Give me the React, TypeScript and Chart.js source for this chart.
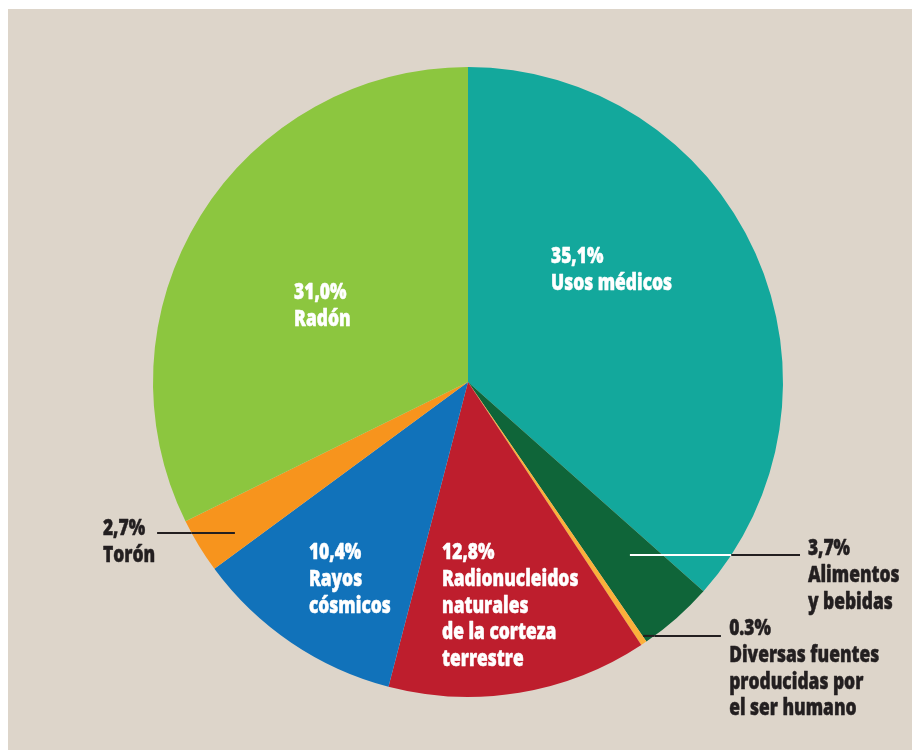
import React, { useEffect, useRef } from "react";
import { Chart, registerables } from "chart.js";

Chart.register(...registerables);

const categories = [
  "Usos médicos",
  "Alimentos y bebidas",
  "Diversas fuentes producidas por el ser humano",
  "Radionucleidos naturales de la corteza terrestre",
  "Rayos cósmicos",
  "Torón",
  "Radón",
];
const values = [35.1, 3.7, 0.3, 12.8, 10.4, 2.7, 31.0];
const percentLabels = ["35,1%", "3,7%", "0.3%", "12,8%", "10,4%", "2,7%", "31,0%"];
const nameLines = [
  ["Usos médicos"],
  ["Alimentos", "y bebidas"],
  ["Diversas fuentes", "producidas por", "el ser humano"],
  ["Radionucleidos", "naturales", "de la corteza", "terrestre"],
  ["Rayos", "cósmicos"],
  ["Torón"],
  ["Radón"],
];
const colors = ["#13a89c", "#0f6539", "#fbb03b", "#be1e2d", "#1172ba", "#f7941d", "#8cc63f"];

// label layout, relative to pie centre, in units of the radius
const labelLayout = [
  { dx: 0.2635, dy: -0.378, color: "#ffffff" },
  { dx: 1.079, dy: 0.549, color: "#231f20" },
  { dx: 0.829, dy: 0.803, color: "#231f20" },
  { dx: -0.0825, dy: 0.562, color: "#ffffff" },
  { dx: -0.505, dy: 0.562, color: "#ffffff" },
  { dx: -1.159, dy: 0.486, color: "#231f20" },
  { dx: -0.552, dy: -0.263, color: "#ffffff" },
];
const leaderLayout = [
  null,
  { x0: 0.514, x1: 1.054, y: 0.549 },
  { x0: 0.556, x1: 0.803, y: 0.806 },
  null,
  null,
  { x0: -0.987, x1: -0.74, y: 0.479 },
  null,
];

const FONT = "800 22px 'Open Sans'";
const SCALE_X = 0.79;
const LINE_H = 26.8;

const labelPlugin = {
  id: "sliceLabels",
  afterDatasetsDraw(chart: any) {
    const meta = chart.getDatasetMeta(0);
    const arc = meta.data[0];
    if (!arc) return;
    const { x: cx, y: cy, outerRadius: R } = arc.getProps(["x", "y", "outerRadius"], true);
    const ctx = chart.ctx;
    ctx.save();
    // leader lines
    leaderLayout.forEach((l) => {
      if (!l) return;
      const y = cy + l.y * R;
      const xa = cx + l.x0 * R;
      const xb = cx + l.x1 * R;
      const half = Math.sqrt(Math.max(0, R * R - (y - cy) * (y - cy)));
      const edge = l.x0 > 0 ? cx + half : cx - half;
      ctx.lineWidth = 2;
      const inside = l.x0 > 0 ? [xa, Math.min(edge, xb)] : [Math.max(edge, xa), xb];
      const outside = l.x0 > 0 ? [Math.max(edge, xa), xb] : [xa, Math.min(edge, xb)];
      const insideWhite = l.x0 > 0 && l.y < 0.6;
      if (inside[1] > inside[0]) {
        ctx.strokeStyle = insideWhite ? "#ffffff" : "#231f20";
        ctx.beginPath();
        ctx.moveTo(inside[0], y);
        ctx.lineTo(inside[1], y);
        ctx.stroke();
      }
      if (outside[1] > outside[0]) {
        ctx.strokeStyle = "#231f20";
        ctx.beginPath();
        ctx.moveTo(outside[0], y);
        ctx.lineTo(outside[1], y);
        ctx.stroke();
      }
    });
    // texts
    ctx.font = FONT;
    ctx.textAlign = "left";
    ctx.textBaseline = "alphabetic";
    ctx.lineJoin = "round";
    labelLayout.forEach((lab, i) => {
      const lines = [percentLabels[i], ...nameLines[i]];
      const x = cx + lab.dx * R;
      const y0 = cy + lab.dy * R;
      ctx.fillStyle = lab.color;
      ctx.strokeStyle = lab.color;
      ctx.lineWidth = 0.5;
      lines.forEach((t, k) => {
        ctx.save();
        ctx.translate(x, y0 + k * LINE_H);
        ctx.scale(SCALE_X, 1);
        ctx.fillText(t, 0, 0);
        ctx.strokeText(t, 0, 0);
        ctx.restore();
      });
    });
    ctx.restore();
  },
};

export default function App() {
  const ref = useRef<HTMLCanvasElement | null>(null);
  useEffect(() => {
    if (!ref.current) return;
    const chart = new Chart(ref.current, {
      type: "pie",
      data: {
        labels: categories,
        datasets: [
          {
            data: values,
            backgroundColor: colors,
            borderWidth: 0,
          },
        ],
      },
      options: {
        animation: false,
        responsive: false,
        layout: { padding: { top: 58, bottom: 54, left: 146, right: 137 } },
        plugins: {
          legend: { display: false },
          tooltip: { enabled: false },
        },
      },
      plugins: [labelPlugin],
    });
    return () => chart.destroy();
  }, []);
  return (
    <div
      style={{
        width: 913,
        height: 742,
        position: "relative",
        left: -1,
        top: 1,
        background: "#ddd5ca",
      }}
    >
      <canvas ref={ref} width={913} height={742} style={{ display: "block" }} />
    </div>
  );
}
